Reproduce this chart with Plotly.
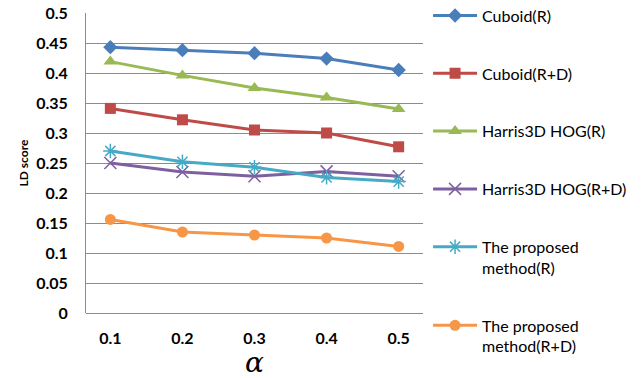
import plotly.graph_objects as go

alpha = ["0.1", "0.2", "0.3", "0.4", "0.5"]
cuboid_r = [0.443, 0.438, 0.433, 0.424, 0.405]
cuboid_rd = [0.341, 0.322, 0.305, 0.300, 0.277]
harris_r = [0.419, 0.396, 0.375, 0.359, 0.340]
harris_rd = [0.250, 0.235, 0.228, 0.236, 0.228]
proposed_r = [0.270, 0.252, 0.243, 0.226, 0.219]
proposed_rd = [0.156, 0.135, 0.130, 0.125, 0.111]
y_ticks = [0, 0.05, 0.1, 0.15, 0.2, 0.25, 0.3, 0.35, 0.4, 0.45, 0.5]

series = [
    ("Cuboid(R)", cuboid_r, "#4A7EBB", "diamond", 11),
    ("Cuboid(R+D)", cuboid_rd, "#BE4B48", "square", 11),
    ("Harris3D HOG(R)", harris_r, "#98B954", "triangle-up", 12),
    ("Harris3D HOG(R+D)", harris_rd, "#7D60A0", "x-thin-open", 12),
    ("The proposed<br>method(R)", proposed_r, "#46AAC5", "asterisk-open", 12),
    ("The proposed<br>method(R+D)", proposed_rd, "#F79646", "circle", 11),
]

fig = go.Figure()
for i, (name, vals, color, sym, size) in enumerate(series):
    open_sym = sym.endswith("open")
    fig.add_trace(go.Scatter(
        x=alpha, y=vals, name=name, mode="lines+markers",
        legendgroup=str(i),
        line=dict(color=color, width=3),
        marker=dict(symbol=sym, size=size, color=color,
                    line=dict(color=color, width=1.5 if open_sym else 0)),
    ))

fig.add_annotation(text="α", xref="paper", yref="paper", x=0.5, y=-0.165,
                   xanchor="center", yanchor="middle", showarrow=False,
                   font=dict(size=28, family="DejaVu Serif", style="italic", color="black"))

fig.update_layout(
    width=642, height=378,
    margin=dict(l=86, r=219, t=13, b=65, autoexpand=False),
    paper_bgcolor="white", plot_bgcolor="white",
    font=dict(family="Lato", color="black"),
    legend=dict(x=1.015, xanchor="left", y=1.048, yanchor="top",
                font=dict(size=16, family="Lato"), tracegroupgap=34,
                valign="top", itemwidth=44, maxheight=378),
    xaxis=dict(type="category", showgrid=False, showline=False, automargin=False,
               tickfont=dict(size=16, family="Lato", weight="bold"),
               ticklabelstandoff=14),
    yaxis=dict(range=[0, 0.5], tickvals=y_ticks, automargin=False,
               ticktext=[f"{v:g}" for v in y_ticks],
               showgrid=True, gridcolor="#8C8C8C", gridwidth=1,
               showline=True, linecolor="#8C8C8C", linewidth=1,
               zeroline=True, zerolinecolor="#8C8C8C", zerolinewidth=1,
               tickfont=dict(size=16, family="Lato", weight="bold"),
               ticklabelstandoff=14,
               title=dict(text="LD score", font=dict(size=12, family="Lato", weight="bold"),
                          standoff=4)),
)

fig.write_html("out.html", config={"displayModeBar": False},
               post_script="document.body.style.margin='0';")
